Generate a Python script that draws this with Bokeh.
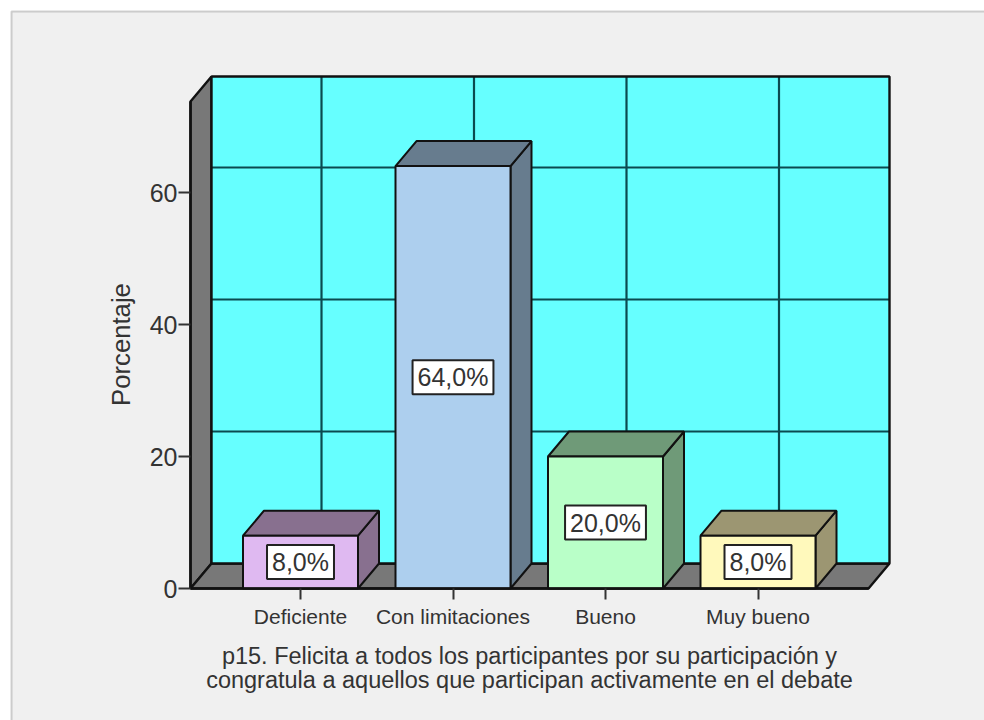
from bokeh.plotting import figure
from bokeh.embed import file_html
from bokeh.resources import INLINE
from bokeh.models import (Range1d, LinearAxis, FixedTicker, Label,
                          ColumnDataSource, BoxAnnotation)

categories = ["Deficiente", "Con limitaciones", "Bueno", "Muy bueno"]
percent = [8.0, 64.0, 20.0, 8.0]
value_labels = ["8,0%", "64,0%", "20,0%", "8,0%"]
y_ticks = [0, 20, 40, 60]
front_colors = ["#DFB9F1", "#ADCFEE", "#B9FFC8", "#FFF9BC"]
side_colors = ["#88708F", "#677C8E", "#6F9A78", "#9C9672"]
x_title = ["p15. Felicita a todos los participantes por su participación y",
           "congratula a aquellos que participan activamente en el debate"]
y_title = "Porcentaje"

W, H = 984, 720
PAGE = 0
X_SCALE = 152.5   # px per category
Y_SCALE = 6.6     # px per percent
X0_PX, Y0_PX = 300.0, 588.0


def px(x):
    return (x - X0_PX) / X_SCALE


def py(y):
    return (Y0_PX - y) / Y_SCALE


DX = 21 / X_SCALE
DY = 25 / Y_SCALE
LEFT = px(190)
RIGHT = px(868)
TOP = py(101)
HALF = 57.5 / X_SCALE
FONT = "Liberation Sans"
TXT = "#333333"
EDGE = "#111111"
WALL = "#787878"
GRID = "#0B4A50"

p = figure(width=W, height=H, output_backend="svg", toolbar_location=None,
           x_range=Range1d(px(PAGE), px(PAGE + W)),
           y_range=Range1d(py(PAGE + H), py(PAGE)),
           x_axis_type=None, y_axis_type=None, min_border=0,
           background_fill_color="white", border_fill_color="white",
           outline_line_color=None)
p.grid.visible = False

p.add_layout(BoxAnnotation(left=px(11), right=px(1100), top=py(11), bottom=py(800),
                           fill_color="#F0F0F0", fill_alpha=1,
                           line_color="#6A6A6A", line_width=2, level="underlay"))

# walls and floor
p.patches(xs=[[LEFT, LEFT + DX, LEFT + DX, LEFT],
              [LEFT, RIGHT, RIGHT + DX, LEFT + DX]],
          ys=[[0, DY, TOP + DY, TOP], [0, 0, DY, DY]],
          fill_color=WALL, line_color=EDGE, line_width=2.4)
p.quad(left=[LEFT + DX], right=[RIGHT + DX], bottom=[DY], top=[TOP + DY],
       fill_color="#66FFFF", line_color=None)

# back wall gridlines
p.multi_line(xs=[[LEFT + DX, RIGHT + DX] for t in y_ticks[1:]],
             ys=[[t + DY, t + DY] for t in y_ticks[1:]],
             line_color=GRID, line_width=2.2)
p.multi_line(xs=[[i + DX, i + DX] for i in range(len(categories))],
             ys=[[DY, TOP + DY] for _ in categories],
             line_color=GRID, line_width=2.2)
p.quad(left=[LEFT + DX], right=[RIGHT + DX], bottom=[DY], top=[TOP + DY],
       fill_color=None, line_color=EDGE, line_width=2.4)

# bars
idx = list(range(len(categories)))
src = ColumnDataSource(dict(x=idx, top=percent, color=front_colors))
p.patches(xs=[[i + HALF, i + HALF + DX, i + HALF + DX, i + HALF] for i in idx],
          ys=[[0, DY, v + DY, v] for v in percent],
          fill_color=side_colors, line_color=EDGE, line_width=2)
p.patches(xs=[[i - HALF, i + HALF, i + HALF + DX, i - HALF + DX] for i in idx],
          ys=[[v, v, v + DY, v + DY] for v in percent],
          fill_color=side_colors, line_color=EDGE, line_width=2)
p.vbar(x="x", top="top", bottom=0, width=2 * HALF, source=src,
       fill_color="color", line_color=EDGE, line_width=2)

for i, v, lab in zip(idx, percent, value_labels):
    p.add_layout(Label(x=i, y=v / 2, text=lab,
                       text_font=FONT, text_font_size="25px", text_color=TXT,
                       text_align="center", text_baseline="middle",
                       background_fill_color="white", border_line_color="#222222",
                       border_line_width=2, padding=(5, 3)))

# axes
ya = LinearAxis(fixed_location=LEFT, ticker=FixedTicker(ticks=y_ticks),
                bounds=(0, TOP), major_tick_in=0, major_tick_out=12,
                minor_tick_line_color=None, axis_line_color=EDGE, axis_line_width=2.4,
                major_tick_line_color="#333333", major_tick_line_width=2,
                major_label_text_font=FONT, major_label_text_font_size="25px",
                major_label_text_color=TXT, major_label_standoff=1)
p.add_layout(ya, "left")
xa = LinearAxis(fixed_location=0, ticker=FixedTicker(ticks=idx),
                major_label_overrides={i: c for i, c in enumerate(categories)},
                bounds=(LEFT, RIGHT), major_tick_in=0, major_tick_out=11,
                minor_tick_line_color=None, axis_line_color=EDGE, axis_line_width=2.4,
                major_tick_line_color="#333333", major_tick_line_width=2,
                major_label_text_font=FONT, major_label_text_font_size="21px",
                major_label_text_color=TXT, major_label_standoff=5)
p.add_layout(xa, "below")

p.add_layout(Label(x=px(120), y=py(344), text=y_title, angle=90, angle_units="deg",
                   text_font=FONT, text_font_size="25.7px", text_color=TXT,
                   text_align="center", text_baseline="middle"))
for line, ypx in zip(x_title, (655, 679)):
    p.add_layout(Label(x=px(529), y=py(ypx), text=line,
                       text_font=FONT, text_font_size="23.5px", text_color=TXT,
                       text_align="center", text_baseline="middle"))

open("out.html", "w").write(file_html(p, INLINE))
